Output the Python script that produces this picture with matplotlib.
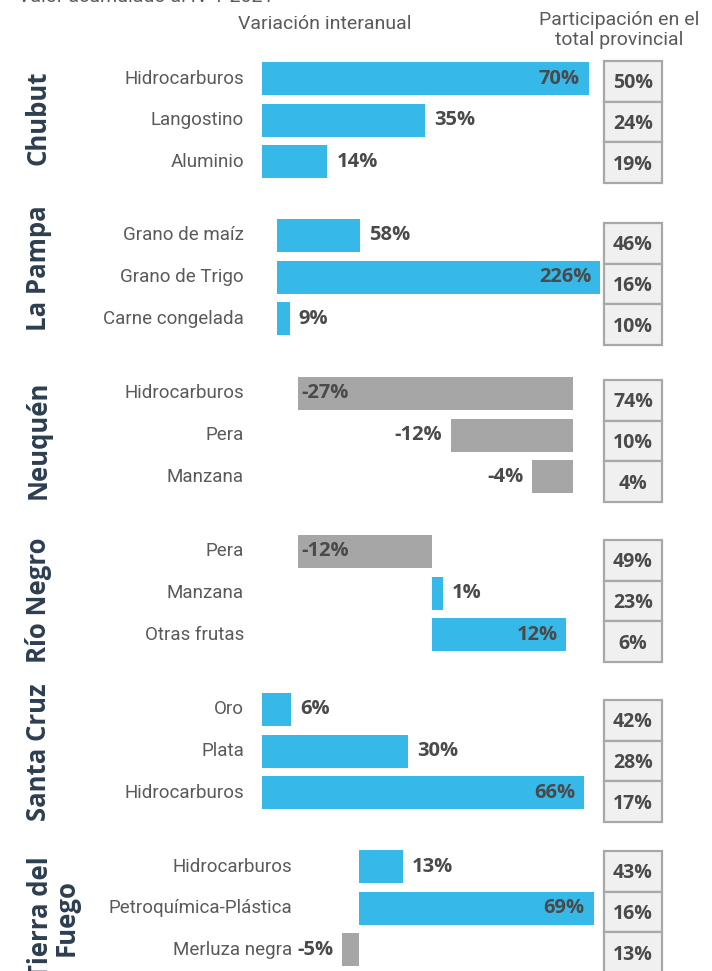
import matplotlib.pyplot as plt
from matplotlib.transforms import blended_transform_factory

BLUE = "#36b9e9"
GREY_BAR = "#a6a6a6"
CELL_BG = "#f0f0f0"
CELL_EDGE = "#a8a8a8"
NAVY = "#2d3e50"
LABEL = "#5a5a5a"
VALUE = "#4a4a4a"

W, H = 712, 971

provinces = ["Chubut", "La Pampa", "Neuquén", "Río Negro", "Santa Cruz", "Tierra del\nFuego"]

chubut_items = ["Hidrocarburos", "Langostino", "Aluminio"]
chubut_var = [70, 35, 14]
chubut_share = [50, 24, 19]

lapampa_items = ["Grano de maíz", "Grano de Trigo", "Carne congelada"]
lapampa_var = [58, 226, 9]
lapampa_share = [46, 16, 10]

neuquen_items = ["Hidrocarburos", "Pera", "Manzana"]
neuquen_var = [-27, -12, -4]
neuquen_share = [74, 10, 4]

rionegro_items = ["Pera", "Manzana", "Otras frutas"]
rionegro_var = [-12, 1, 12]
rionegro_share = [49, 23, 6]

santacruz_items = ["Oro", "Plata", "Hidrocarburos"]
santacruz_var = [6, 30, 66]
santacruz_share = [42, 28, 17]

tdf_items = ["Hidrocarburos", "Petroquímica-Plástica", "Merluza negra"]
tdf_var = [13, 69, -5]
tdf_share = [43, 16, 13]

items = [chubut_items, lapampa_items, neuquen_items, rionegro_items, santacruz_items, tdf_items]
variations = [chubut_var, lapampa_var, neuquen_var, rionegro_var, santacruz_var, tdf_var]
shares = [chubut_share, lapampa_share, neuquen_share, rionegro_share, santacruz_share, tdf_share]

# panel layout in pixels: zero line, px per percent, first bar top, first cell top,
# right edge of item labels, centre of the province title
layout = [
    dict(zero=262, scale=4.67, bar_top=62, cell_top=61, label_x=244, title_x=38, title_y=118),
    dict(zero=277, scale=1.43, bar_top=219, cell_top=223, label_x=244, title_x=38, title_y=268),
    dict(zero=573, scale=10.2, bar_top=377, cell_top=380, label_x=244, title_x=38, title_y=440),
    dict(zero=432, scale=11.2, bar_top=535, cell_top=540, label_x=244, title_x=38, title_y=600),
    dict(zero=262, scale=4.88, bar_top=693, cell_top=700, label_x=244, title_x=38, title_y=752),
    dict(zero=359, scale=3.4, bar_top=850, cell_top=851, label_x=292, title_x=53, title_y=918),
]

PITCH = 41.7
BAR_H = 33
CELL_H = 40.7
AX_LEFT, AX_RIGHT = 90, 600
CELL_LEFT, CELL_RIGHT = 604, 662

LIGHT_FONT = ["Roboto", "Open Sans", "DejaVu Sans"]
BOLD_FONT = ["Open Sans", "DejaVu Sans"]

fig = plt.figure(figsize=(W / 100, H / 100), dpi=100, facecolor="white")


def px_box(x0, y0, x1, y1):
    return [x0 / W, 1 - y1 / H, (x1 - x0) / W, (y1 - y0) / H]


fig.text(18 / W, 1 + 3 / H, "Valor acumulado al IV T 2021", ha="left", va="center",
         fontsize=14, color=LABEL, family=LIGHT_FONT)
fig.text(325 / W, 1 - 24 / H, "Variación interanual", ha="center", va="center",
         fontsize=14, color=LABEL, family=LIGHT_FONT)
fig.text(619 / W, 1 - 30 / H, "Participación en el\ntotal provincial", ha="center",
         va="center", fontsize=14, color=LABEL, family=LIGHT_FONT, linespacing=1.15)

for prov, names, var, share, lay in zip(provinces, items, variations, shares, layout):
    # bars
    y0 = lay["bar_top"] - (PITCH - BAR_H) / 2
    ax = fig.add_axes(px_box(AX_LEFT, y0, AX_RIGHT, y0 + 3 * PITCH))
    ax.set_xlim((AX_LEFT - lay["zero"]) / lay["scale"], (AX_RIGHT - lay["zero"]) / lay["scale"])
    ax.set_ylim(2.5, -0.5)
    ax.axis("off")
    ypos = list(range(len(var)))
    colors = [BLUE if v >= 0 else GREY_BAR for v in var]
    ax.barh(ypos, var, height=BAR_H / PITCH, color=colors)

    # the longest bar in each panel carries its value inside, the rest outside
    biggest = max(abs(v) for v in var)
    for y, v in zip(ypos, var):
        inside = abs(v) == biggest
        if v >= 0:
            off, ha = (-9, "right") if inside else (9, "left")
        else:
            off, ha = (4, "left") if inside else (-9, "right")
        ax.annotate(f"{v}%", xy=(v, y), xytext=(off, 0), textcoords="offset pixels",
                    ha=ha, va="center", fontsize=14.5, fontweight="bold", color=VALUE,
                    family=BOLD_FONT, annotation_clip=False)

    tr = blended_transform_factory(fig.transFigure, ax.transData)
    for y, name in zip(ypos, names):
        ax.text(lay["label_x"] / W, y, name, transform=tr, ha="right", va="center",
                fontsize=13.5, color=LABEL, family=LIGHT_FONT)

    fig.text(lay["title_x"] / W, 1 - lay["title_y"] / H, prov, rotation=90, ha="center",
             va="center", fontsize=18.5, fontweight="bold", color=NAVY, family=BOLD_FONT,
             multialignment="center", linespacing=0.95)

    # share cells
    cx = fig.add_axes(px_box(CELL_LEFT, lay["cell_top"], CELL_RIGHT, lay["cell_top"] + 3 * CELL_H))
    cx.set_xlim(0, 1)
    cx.set_ylim(2.5, -0.5)
    cx.axis("off")
    cx.barh(ypos, [1] * len(share), height=1, color=CELL_BG, edgecolor=CELL_EDGE,
            linewidth=1.6, clip_on=False)
    for y, s in zip(ypos, share):
        cx.text(0.5, y + 0.05, f"{s}%", ha="center", va="center", fontsize=14,
                fontweight="bold", color=VALUE, family=BOLD_FONT)

fig.savefig("out.png", dpi=100, facecolor="white")
